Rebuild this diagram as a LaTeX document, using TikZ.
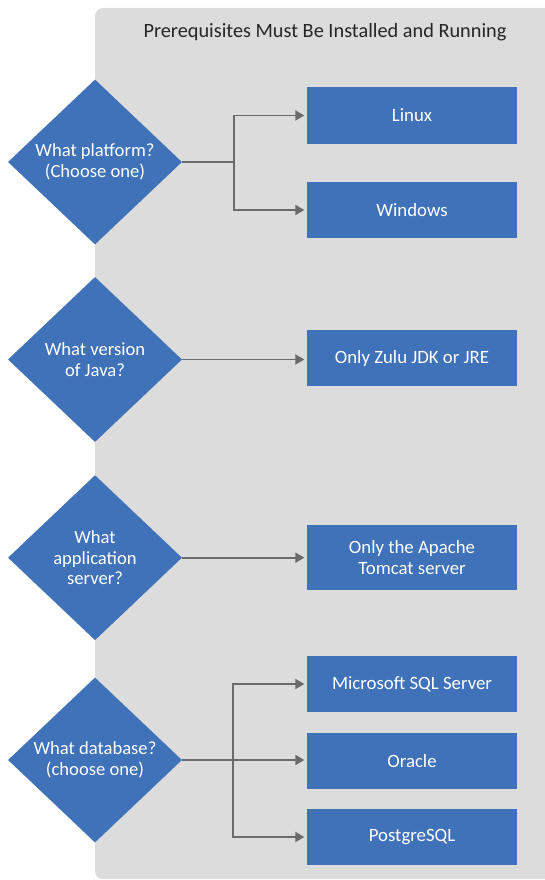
\documentclass[tikz,border=0pt]{standalone}
\usepackage{fontspec}
\setmainfont{Carlito}
\usetikzlibrary{shapes.geometric,arrows.meta}
\definecolor{boxblue}{HTML}{3F72B8}
\definecolor{panelgray}{HTML}{DCDCDC}
\definecolor{linegray}{HTML}{6A6A6A}
\begin{document}
\begin{tikzpicture}[x=1pt,y=-1pt]
    \tikzstyle{decision}=[shape=diamond, fill=boxblue, text=white, minimum width=174pt, minimum height=165pt, inner sep=0pt, align=center, font=\fontsize{18.6}{20.5}\selectfont];
    \tikzstyle{choice}=[shape=rectangle, fill=boxblue, text=white, minimum width=210pt, minimum height=56pt, inner sep=0pt, align=center, font=\fontsize{18.8}{20.8}\selectfont];
    \tikzstyle{arr}=[draw=linegray, line width=1.9pt, -{Triangle[length=9pt,width=10pt]}, shorten >=2.5pt];
    \tikzstyle{link}=[draw=linegray, line width=1.9pt];
    \useasboundingbox (0,0) rectangle (545,880);
    \fill[panelgray, rounded corners=8pt] (95,8) rectangle (560,879);
    \node[font=\fontsize{20.3}{22}\selectfont, text=black!85] (title) at (325,32.5) {Prerequisites Must Be Installed and Running};
    % platform
    \node[decision] (d1) at (95,162) {What platform?\\(Choose one)};
    \node[choice] (linux) at (412,115.5) {Linux};
    \node[choice] (win) at (412,210) {Windows};
    \coordinate (j1) at (234,162);
    \draw[link] (d1.east)--(j1);
    \draw[arr] (j1) |- (linux.west);
    \draw[arr] (j1) |- (win.west);
    % java
    \node[decision] (d2) at (95,359.5) {What version\\of Java?};
    \node[choice] (java) at (412,358) {Only Zulu JDK or JRE};
    \draw[arr] (d2.east)--(d2.east-|java.west);
    % application server
    \node[decision] (d3) at (95,557.7) {What\\application\\server?};
    \node[choice, minimum height=65pt] (tomcat) at (412,557.5) {Only the Apache\\Tomcat server};
    \draw[arr] (d3.east)--(d3.east-|tomcat.west);
    % database
    \node[decision] (d4) at (95,760) {What database?\\(choose one)};
    \node[choice] (mssql) at (412,684) {Microsoft SQL Server};
    \node[choice] (oracle) at (412,761) {Oracle};
    \node[choice] (pgsql) at (412,837) {PostgreSQL};
    \coordinate (j4) at (233,760);
    \draw[link] (d4.east)--(j4);
    \draw[arr] (j4) |- (mssql.west);
    \draw[arr] (d4.east)--(d4.east-|oracle.west);
    \draw[arr] (j4) |- (pgsql.west);
\end{tikzpicture}
\end{document}
